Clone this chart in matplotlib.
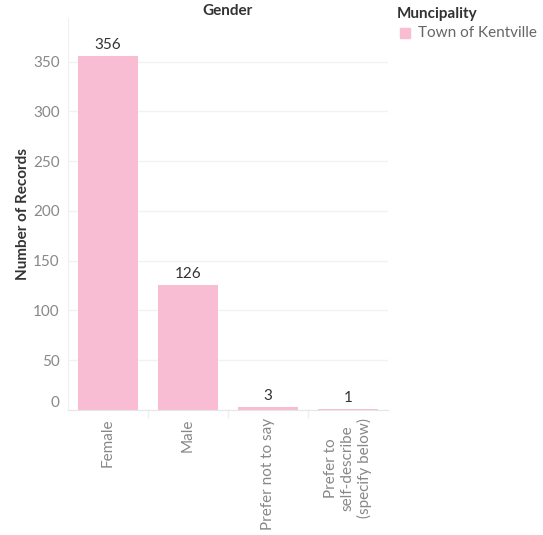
import matplotlib.pyplot as plt

# values
genders = ['Female', 'Male', 'Prefer not to say', 'Prefer to\nself-describe\n(specify below)']
records = [356, 126, 3, 1]
y_ticks = [0, 50, 100, 150, 200, 250, 300, 350]

bar_color = '#f8bcd3'
plt.rcParams['font.family'] = ['Lato', 'DejaVu Sans']

fig = plt.figure(figsize=(5.43, 5.35), dpi=100)
ax = fig.add_axes([0.125, 0.2336, 0.589, 0.733])

pos = list(range(len(genders)))
ax.bar(pos, records, width=0.75, color=bar_color, zorder=2)
for p, v in zip(pos, records):
    ax.text(p, v + 4, str(v), ha='center', va='bottom', fontsize=11, color='#333333')

ax.set_xlim(-0.5, len(genders) - 0.5)
ax.set_ylim(0, 394)
ax.set_yticks(y_ticks)
ax.set_yticklabels([str(t) for t in y_ticks], fontsize=11, color='#888888')
ax.get_yticklabels()[0].set_verticalalignment('bottom')
ax.set_xticks(pos)
ax.set_xticklabels(genders, rotation=90, fontsize=11, color='#888888',
                   va='top', ha='center', multialignment='center')
ax.tick_params(axis='both', length=0, pad=6)

# faint separators between categories
ax.set_xticks([p + 0.5 for p in pos[:-1]], minor=True)
ax.tick_params(axis='x', which='minor', length=6, color='#eeeeee', width=1)

ax.grid(axis='y', color='#f2f2f2', linewidth=1, zorder=0)
for s in ['top', 'right']:
    ax.spines[s].set_visible(False)
ax.spines['left'].set_color('#f0f0f0')
ax.spines['bottom'].set_color('#e6e6e6')

ax.set_ylabel('Number of Records', fontsize=11, fontweight='bold', color='#333333', labelpad=2)
ax.set_title('Gender', fontsize=11, fontweight='bold', color='#333333', pad=1)

# legend
fig.text(397 / 543, 1 - 14 / 535, 'Muncipality', fontsize=11, fontweight='bold',
         color='#333333', va='center', ha='left')
fig.patches.append(plt.Rectangle((400 / 543, 1 - 38 / 535), 10 / 543, 10 / 535,
                                 transform=fig.transFigure, color=bar_color, figure=fig))
fig.text(418 / 543, 1 - 33 / 535, 'Town of Kentville', fontsize=11,
         color='#666666', va='center', ha='left')

fig.savefig('out.png', dpi=100)
